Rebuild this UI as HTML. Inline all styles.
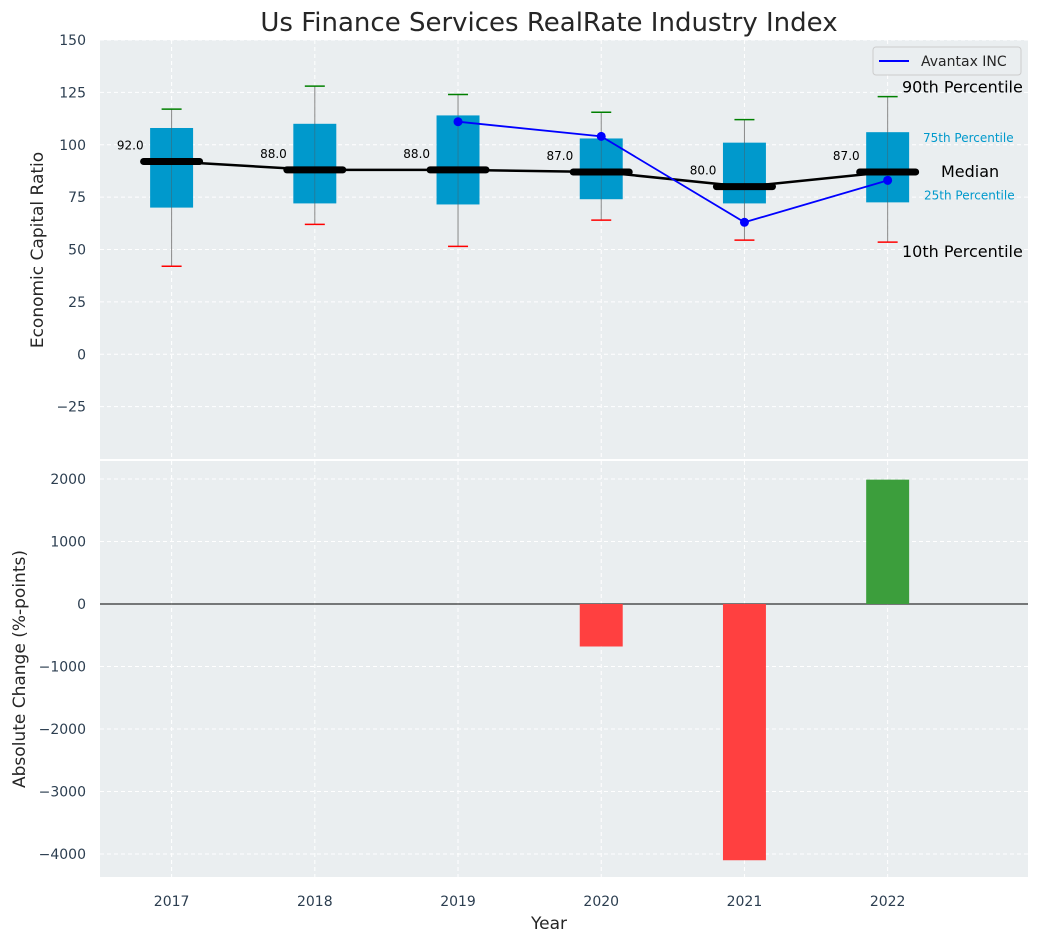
<!DOCTYPE html>
<html><head><meta charset="utf-8"><style>
body{margin:0;background:#fff;font-family:"Liberation Sans","DejaVu Sans",sans-serif}
svg text{font-family:"DejaVu Sans","Liberation Sans",sans-serif}
</style></head><body>
<svg id="c" width="1039" height="942" xmlns="http://www.w3.org/2000/svg"></svg>
<script>
const years=[2017,2018,2019,2020,2021,2022];
const p10=[42,62,51.5,64,54.5,53.5];
const p25=[70,72,71.5,74,72,72.5];
const med=[92,88,88,87,80,87];
const p75=[108,110,114,103,101,106];
const p90=[117,128,124,115.5,112,123];
const compYears=[2019,2020,2021,2022];
const compVals=[111,104,63,83];
const barYears=[2020,2021,2022];
const barVals=[-680,-4100,1990];
const topTicks=[-25,0,25,50,75,100,125,150];
const botTicks=[-4000,-3000,-2000,-1000,0,1000,2000];

const NS="http://www.w3.org/2000/svg";
const svg=document.getElementById('c');
function el(t,a,txt){const e=document.createElementNS(NS,t);for(const k in a)e.setAttribute(k,a[k]);if(txt!==undefined)e.textContent=txt;svg.appendChild(e);return e;}
const X0=100,X1=1028;
const x=v=>X0+(v-2016.5)/(2022.98-2016.5)*(X1-X0);
const T0=40,T1=459,B0=461,B1=877;
const yT=v=>T0+(150-v)/200*(T1-T0);
const yB=v=>B0+(2288-v)/(2288+4368)*(B1-B0);

el('text',{x:549,y:31,'font-size':26,'text-anchor':'middle',fill:'#262626',},'Us Finance Services RealRate Industry Index');
el('rect',{x:X0,y:T0,width:X1-X0,height:T1-T0,fill:'#eaeef0',});
el('rect',{x:X0,y:B0,width:X1-X0,height:B1-B0,fill:'#eaeef0',});
topTicks.forEach(t=>{const g=el('line',{x1:X0,x2:X1,y1:yT(t),y2:yT(t),stroke:'#fff','stroke-dasharray':'4,3'});
const l=el('text',{x:X0-14,y:yT(t)+5,'font-size':14,'text-anchor':'end',fill:'#2c3e50'},t<0?'\u2212'+(-t):t);});
botTicks.forEach(t=>{const g=el('line',{x1:X0,x2:X1,y1:yB(t),y2:yB(t),stroke:'#fff','stroke-dasharray':'4,3'});
const l=el('text',{x:X0-14,y:yB(t)+5,'font-size':14,'text-anchor':'end',fill:'#2c3e50'},t<0?'\u2212'+(-t):t);});
years.forEach(yr=>{[[T0,T1],[B0,B1]].forEach(r=>{const g=el('line',{x1:x(yr),x2:x(yr),y1:r[0],y2:r[1],stroke:'#fff','stroke-dasharray':'4,3'});});
const l=el('text',{x:x(yr),y:906,'font-size':14,'text-anchor':'middle',fill:'#2c3e50'},yr);});
const hw=(x(2017.15)-x(2017));
years.forEach((yr,i)=>{const cx=x(yr);
const w=el('line',{x1:cx,x2:cx,y1:yT(p90[i]),y2:yT(p10[i]),stroke:'#888','stroke-width':1});
const b=el('rect',{x:cx-hw,y:yT(p75[i]),width:2*hw,height:yT(p25[i])-yT(p75[i]),fill:'#0099cc'});
const w2=el('line',{x1:cx,x2:cx,y1:yT(p75[i]),y2:yT(p25[i]),stroke:'#555','stroke-width':0.8,opacity:0.5});
const c1=el('line',{x1:cx-10,x2:cx+10,y1:yT(p90[i]),y2:yT(p90[i]),stroke:'green','stroke-width':1.5});
const c2=el('line',{x1:cx-10,x2:cx+10,y1:yT(p10[i]),y2:yT(p10[i]),stroke:'red','stroke-width':1.5});
});
const mp=el('polyline',{points:years.map((yr,i)=>x(yr)+','+yT(med[i])).join(' '),fill:'none',stroke:'#000','stroke-width':2.5});

years.forEach((yr,i)=>{const cx=x(yr);
const m=el('line',{x1:cx-28,x2:cx+28,y1:yT(med[i]),y2:yT(med[i]),stroke:'#000','stroke-width':7,'stroke-linecap':'round'});
const t=el('text',{x:cx-28,y:yT(med[i])-12,'font-size':12,'text-anchor':'end',fill:'#000'},med[i].toFixed(1));});
const cp=el('polyline',{points:compYears.map((yr,i)=>x(yr)+','+yT(compVals[i])).join(' '),fill:'none',stroke:'#0000ff','stroke-width':1.8});

compYears.forEach((yr,i)=>{const d=el('circle',{cx:x(yr),cy:yT(compVals[i]),r:4.5,fill:'#0000ff'});});
[['90th Percentile',yT(p90[5])-4,902,16,'#000'],['75th Percentile',yT(p75[5])+10,923,12,'#0099cc'],['Median',yT(med[5])+5,941,16,'#000'],['25th Percentile',yT(p25[5])-3,924,12,'#0099cc'],['10th Percentile',yT(p10[5])+15,902,16,'#000']].forEach(a=>{
const t=el('text',{x:a[2],y:a[1],'font-size':a[3],fill:a[4]},a[0]);});
el('rect',{x:873,y:47,width:148,height:28,rx:3,fill:'#eaeef0',stroke:'#ccc',});
el('line',{x1:879,x2:909,y1:61,y2:61,stroke:'#0000ff','stroke-width':2,});
el('text',{x:921,y:66,'font-size':14,fill:'#262626',},'Avantax INC');
el('line',{x1:X0,x2:X1,y1:yB(0),y2:yB(0),stroke:'#000','stroke-width':1,});
barYears.forEach((yr,i)=>{const v=barVals[i];const bw=x(2017.15)-x(2017);
const r=el('rect',{x:x(yr)-bw,y:Math.min(yB(v),yB(0)),width:2*bw,height:Math.abs(yB(v)-yB(0)),fill:v<0?'#ff4040':'#3c9e3c'});
});
el('text',{x:549,y:929,'font-size':17,'text-anchor':'middle',fill:'#262626',},'Year');
el('text',{x:0,y:0,'font-size':17,'text-anchor':'middle',fill:'#262626',transform:'translate(43,250) rotate(-90)',},'Economic Capital Ratio');
el('text',{x:0,y:0,'font-size':17,'text-anchor':'middle',fill:'#262626',transform:'translate(25,669) rotate(-90)',},'Absolute Change (%-points)');
</script>
</body></html>
